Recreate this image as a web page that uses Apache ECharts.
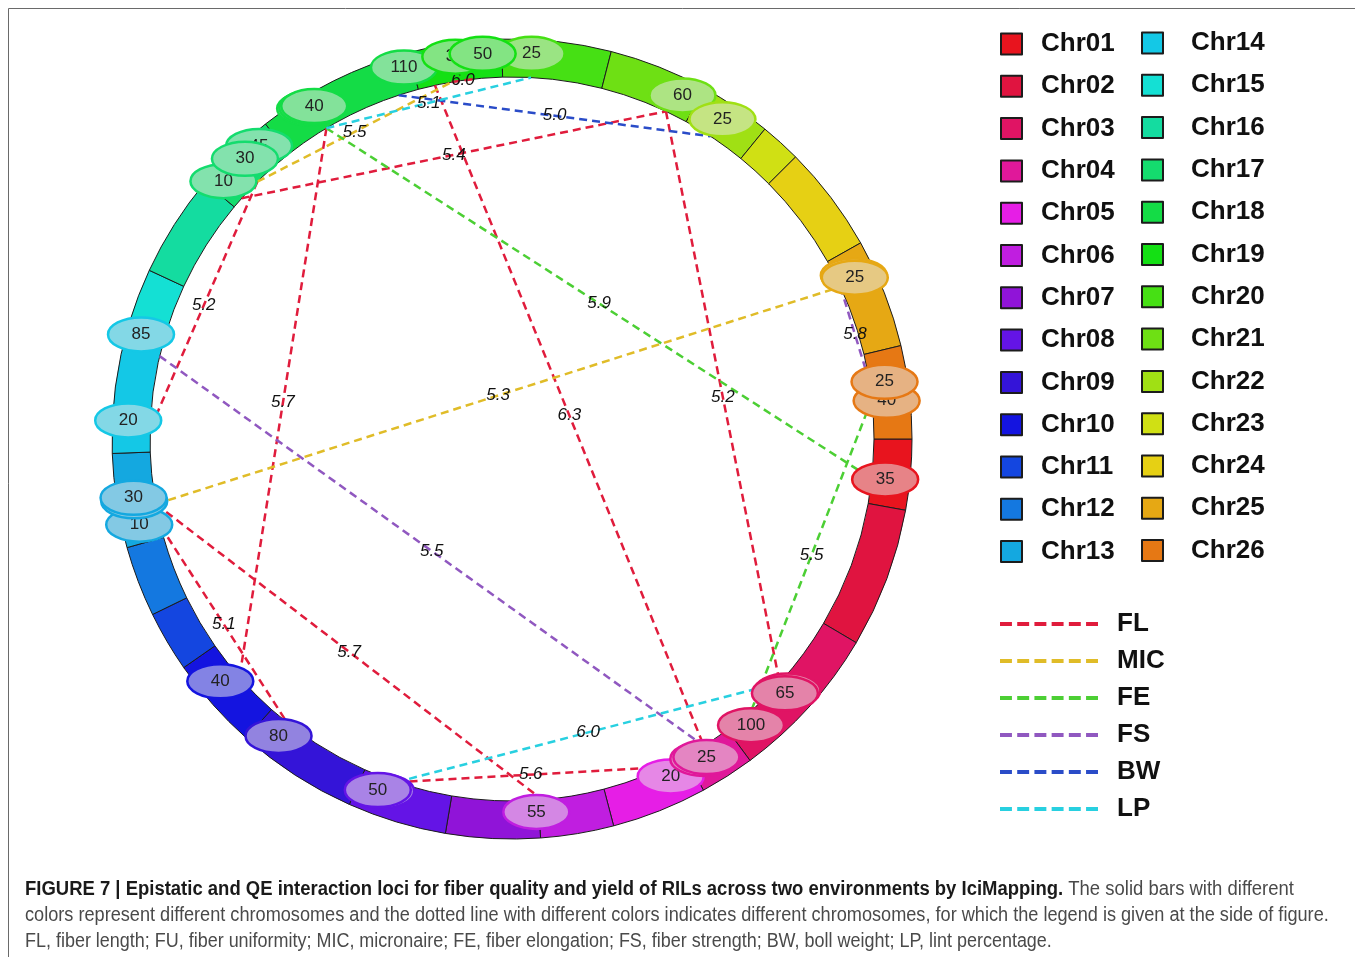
<!DOCTYPE html>
<html>
<head>
<meta charset="utf-8">
<title>Figure 7 - epistatic QTL circle</title>
<script src="https://cdn.jsdelivr.net/npm/echarts@6.0.0/dist/echarts.min.js"></script>
<style>
  html, body { margin: 0; padding: 0; background: #fff; }
  #chart { width: 1355px; height: 957px; }
</style>
</head>
<body>
<div id="chart"></div>
<script>
const chromosomes = ['Chr01', 'Chr02', 'Chr03', 'Chr04', 'Chr05', 'Chr06', 'Chr07', 'Chr08', 'Chr09',
  'Chr10', 'Chr11', 'Chr12', 'Chr13', 'Chr14', 'Chr15', 'Chr16', 'Chr17', 'Chr18', 'Chr19', 'Chr20',
  'Chr21', 'Chr22', 'Chr23', 'Chr24', 'Chr25', 'Chr26']
const chrLength = [57, 113, 127, 44, 77, 59, 76, 80, 98, 75, 49, 57, 76, 106, 44, 83, 67, 128, 75, 88,
  80, 58, 33, 86, 88, 75]

// loci (ellipses) as placed on the ring; listed in drawing order, later ones on top
const lociChr = ['Chr01', 'Chr26', 'Chr26', 'Chr25', 'Chr25', 'Chr21', 'Chr22', 'Chr20', 'Chr18', 'Chr19',
  'Chr19', 'Chr18', 'Chr18', 'Chr18', 'Chr17', 'Chr17', 'Chr17', 'Chr14', 'Chr14', 'Chr13', 'Chr13',
  'Chr13', 'Chr10', 'Chr09', 'Chr08', 'Chr08', 'Chr06', 'Chr05', 'Chr04', 'Chr04', 'Chr03', 'Chr03',
  'Chr03']
const lociPos = [39, 48, 32, 27, 29, 72, 31, 28, 123, 39, 62, 37, 39, 41, 9, 51, 35, 22, 95, 10, 30,
  33, 42, 73, 55, 58, 58, 18, 31, 28, 109, 67, 70]
const lociLabel = ['35', '40', '25', '25', '25', '60', '25', '25', '110', '30', '50', '40', '40', '40',
  '10', '45', '30', '20', '85', '10', '30', '30', '40', '80', '50', '50', '55', '20', '25', '25', '100',
  '65', '65']

// interactions (dashed lines) with their LOD
const traits = ['FL', 'MIC', 'FE', 'FS', 'BW', 'LP']
const linkTrait = ['FL', 'FL', 'FL', 'FL', 'FL', 'FL', 'FL', 'FL', 'FL', 'MIC', 'MIC', 'FE', 'FE', 'FS',
  'FS', 'BW', 'LP', 'LP']
const linkChrA = ['Chr17', 'Chr19', 'Chr21', 'Chr18', 'Chr17', 'Chr13', 'Chr13', 'Chr08', 'Chr19',
  'Chr13', 'Chr17', 'Chr18', 'Chr26', 'Chr14', 'Chr25', 'Chr18', 'Chr08', 'Chr18']
const linkPosA = [10, 15, 60, 40, 30, 30, 10, 50, 30, 30, 30, 40, 40, 85, 25, 110, 50, 40]
const linkChrB = ['Chr21', 'Chr04', 'Chr03', 'Chr10', 'Chr14', 'Chr06', 'Chr09', 'Chr05', 'Chr19',
  'Chr25', 'Chr19', 'Chr01', 'Chr03', 'Chr04', 'Chr26', 'Chr22', 'Chr03', 'Chr20']
const linkPosB = [60, 25, 65, 40, 20, 55, 80, 20, 50, 25, 30, 35, 100, 25, 25, 25, 65, 25]
const linkLod = ['5.4', '6.3', '5.2', '5.7', '5.2', '5.7', '5.1', '5.6', '6.0', '5.3', '5.5', '5.9',
  '5.5', '5.5', '5.8', '5.0', '6.0', '5.1']

// styling
const chrColors = ['#e8141e', '#e01440', '#e01464', '#e0189a', '#e61ee6', '#c01ee0', '#9014d8',
  '#6414e6', '#3414d8', '#1414e0', '#1446e0', '#1478e0', '#14a8e0', '#14c8e6', '#14e0d4', '#14dca0',
  '#14dc6e', '#14dc46', '#14e014', '#46e014', '#6ee014', '#a0e014', '#d0e014', '#e6d014', '#e6a814',
  '#e67814']
const traitColors = ['#e01c3c', '#e0bc28', '#4ccf34', '#9058c0', '#2a4cc8', '#28d0e0']
const FONT = '"Liberation Sans", Arial, Helvetica, sans-serif'
const CENTER = [512, 439]
const RING_IN = 362
const RING_OUT = 400
const LOCUS_R = 380
const LOCUS_SHIFT = [-4, -6] // the ellipses sit slightly up-left of the ring in the figure

const chrStart = {}
let total = 0
chromosomes.forEach((c, i) => {
  chrStart[c] = total
  total += chrLength[i]
})

function tint (hex, k) {
  const n = parseInt(hex.slice(1), 16)
  const mix = v => Math.round((v + (255 - v) * k) * 0.95)
  return 'rgb(' + mix((n >> 16) & 255) + ',' + mix((n >> 8) & 255) + ',' + mix(n & 255) + ')'
}

// dashed icon for the line legend
let dashIcon = 'path://'
for (let i = 0; i < 6; i++) {
  dashIcon += 'M' + (i * 17.3).toFixed(1) + ',0h12v4h-12z'
}

const legendText = {
  fontFamily: FONT,
  fontSize: 26,
  fontWeight: 'bold',
  color: '#111',
  lineHeight: 26
}

function linkSeries (trait, ti) {
  const data = []
  linkTrait.forEach((t, i) => {
    if (t !== trait) return
    data.push([chrStart[linkChrA[i]] + linkPosA[i], chrStart[linkChrB[i]] + linkPosB[i], i])
  })
  return {
    type: 'custom',
    name: trait,
    coordinateSystem: 'polar',
    silent: true,
    z: 2,
    itemStyle: { color: traitColors[ti] },
    data: data,
    renderItem: function (params, api) {
      const p1 = api.coord([RING_IN, api.value(0)])
      const p2 = api.coord([RING_IN, api.value(1)])
      return {
        type: 'group',
        children: [{
          type: 'line',
          shape: { x1: p1[0], y1: p1[1], x2: p2[0], y2: p2[1] },
          style: { stroke: traitColors[ti], lineWidth: 2.5, lineDash: [8, 5] }
        }, {
          type: 'text',
          x: (p1[0] + p2[0]) / 2,
          y: (p1[1] + p2[1]) / 2,
          z2: 10,
          style: {
            text: linkLod[api.value(2)],
            font: 'italic 17px ' + FONT,
            fill: '#111',
            align: 'center',
            verticalAlign: 'middle'
          }
        }]
      }
    }
  }
}

const lociSeries = {
  type: 'custom',
  coordinateSystem: 'polar',
  silent: true,
  z: 3,
  data: lociChr.map((c, i) => [chrStart[c] + lociPos[i], i]),
  renderItem: function (params, api) {
    const i = api.value(1)
    const k = chromosomes.indexOf(lociChr[i])
    const p = api.coord([LOCUS_R, api.value(0)])
    const cx = p[0] + LOCUS_SHIFT[0]
    const cy = p[1] + LOCUS_SHIFT[1]
    return {
      type: 'group',
      children: [{
        type: 'ellipse',
        shape: { cx: cx, cy: cy, rx: 33, ry: 17 },
        style: { fill: tint(chrColors[k], 0.5), stroke: chrColors[k], lineWidth: 2.5 }
      }, {
        type: 'text',
        x: cx,
        y: cy,
        style: {
          text: lociLabel[i],
          font: '17px ' + FONT,
          fill: '#222',
          align: 'center',
          verticalAlign: 'middle'
        }
      }]
    }
  }
}

const chart = echarts.init(document.getElementById('chart'))

chart.setOption({
  animation: false,
  backgroundColor: '#fff',
  polar: { center: CENTER, radius: RING_OUT },
  angleAxis: { type: 'value', min: 0, max: total, startAngle: 0, clockwise: true, show: false },
  radiusAxis: { type: 'value', min: 0, max: RING_OUT, show: false },
  legend: [{
    data: chromosomes.slice(0, 13),
    orient: 'vertical',
    left: 1000,
    top: 31,
    padding: 0,
    icon: 'rect',
    itemWidth: 21,
    itemHeight: 21,
    itemGap: 16.3,
    selectedMode: false,
    textStyle: Object.assign({ padding: [0, 0, 0, 14] }, legendText)
  }, {
    data: chromosomes.slice(13),
    orient: 'vertical',
    left: 1141,
    top: 30,
    padding: 0,
    icon: 'rect',
    itemWidth: 21,
    itemHeight: 21,
    itemGap: 16.3,
    selectedMode: false,
    textStyle: Object.assign({ padding: [0, 0, 0, 23] }, legendText)
  }, {
    data: traits,
    orient: 'vertical',
    left: 1000,
    top: 611,
    padding: 0,
    icon: dashIcon,
    itemWidth: 98,
    itemHeight: 4,
    itemGap: 11,
    selectedMode: false,
    textStyle: Object.assign({ padding: [0, 0, 0, 14] }, legendText)
  }],
  graphic: [{
    type: 'rect',
    silent: true,
    shape: { x: 8.5, y: 8.5, width: 1400, height: 1000 },
    style: { fill: 'none', stroke: '#6a6a6a', lineWidth: 1 }
  }, {
    type: 'text',
    x: 25,
    y: 889,
    scaleX: 0.924,
    style: {
      text: '{b|FIGURE 7 | Epistatic and QE interaction loci for fiber quality and yield of RILs across two environments by IciMapping.} The solid bars with different',
      font: '20px ' + FONT,
      fill: '#4a4a4a',
      verticalAlign: 'middle',
      rich: { b: { fontWeight: 'bold', fontSize: 20, fontFamily: FONT, fill: '#1a1a1a' } }
    }
  }, {
    type: 'text',
    x: 25,
    y: 915,
    scaleX: 0.907,
    style: {
      text: 'colors represent different chromosomes and the dotted line with different colors indicates different chromosomes, for which the legend is given at the side of figure.',
      font: '20px ' + FONT,
      fill: '#4a4a4a',
      verticalAlign: 'middle'
    }
  }, {
    type: 'text',
    x: 25,
    y: 941,
    scaleX: 0.898,
    style: {
      text: 'FL, fiber length; FU, fiber uniformity; MIC, micronaire; FE, fiber elongation; FS, fiber strength; BW, boll weight; LP, lint percentage.',
      font: '20px ' + FONT,
      fill: '#4a4a4a',
      verticalAlign: 'middle'
    }
  }],
  series: [{
    type: 'pie',
    center: CENTER,
    radius: [RING_IN, RING_OUT],
    startAngle: 0,
    clockwise: true,
    silent: true,
    z: 1,
    label: { show: false },
    labelLine: { show: false },
    itemStyle: { borderColor: '#1c1c1c', borderWidth: 1 },
    data: chromosomes.map((c, i) => ({
      name: c,
      value: chrLength[i],
      itemStyle: { color: chrColors[i] }
    }))
  }]
    .concat(traits.map(linkSeries))
    .concat([lociSeries])
})
</script>
</body>
</html>
